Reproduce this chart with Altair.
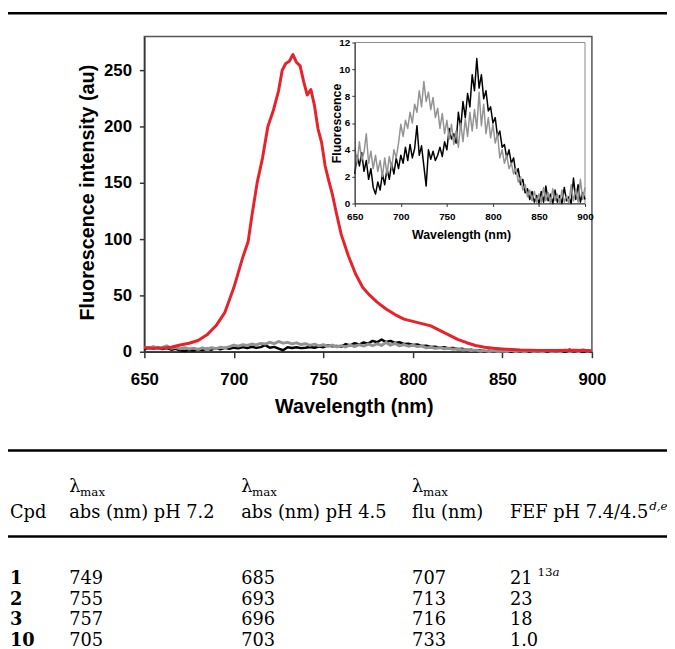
import altair as alt
import pandas as pd

# ---------------- data ----------------
# red spectrum (main plot)
red_wl = [650, 655, 660, 665, 670, 675, 680, 685, 690, 695, 700, 705, 708, 710, 713, 716,
          719, 722, 725, 727, 729, 731, 733, 735, 737, 739, 741, 743, 745, 747, 749, 751,
          753, 755, 757, 760, 764, 768, 772, 776, 780, 785, 790, 795, 800, 805, 810, 815,
          820, 825, 830, 835, 840, 845, 850, 860, 870, 880, 890, 900]
red_val = [3.5, 3, 3, 4, 6, 7.5, 10, 15, 23, 35, 57, 84, 98, 120, 150, 172,
           200, 214, 232, 250, 256, 258, 264, 257, 254, 240, 228, 233, 219, 198, 186, 165,
           152, 140, 125, 104, 85, 69, 57, 50, 44, 38, 33, 29, 27, 25, 23, 19,
           15, 11, 8, 5.5, 4, 3, 2.5, 1.5, 1.2, 1, 1.3, 0.8]

# black and gray spectra (sampled every 2.5 nm, 650-900 nm)
noisy_wl = [650 + 2.5 * i for i in range(101)]
black_val = [2.2, 3.6, 2.8, 3.8, 2.4, 3.2, 1.8, 2.6, 1.2, 0.7, 1.6, 1.0, 2.2, 1.4, 2.6, 1.8,
             3.0, 2.2, 3.4, 2.6, 3.6, 3.0, 4.2, 3.2, 4.4, 3.4, 4.1, 5.8, 3.6, 4.3, 2.8, 1.3,
             4.0, 3.3, 3.9, 3.2, 3.6, 4.2, 3.5, 4.6, 4.0, 5.6, 4.8, 5.2, 4.5, 6.8, 5.6, 7.6,
             6.4, 8.2, 7.2, 9.6, 8.4, 10.8, 8.6, 9.6, 7.8, 8.4, 6.9, 7.2, 6.0, 6.4, 5.0, 5.4,
             4.2, 4.4, 3.4, 4.0, 3.0, 3.4, 2.2, 2.6, 1.4, 1.8, 0.8, 1.1, 0.3, 0.9, 0.1, 0.6,
             0.0, 0.9, 0.1, 1.3, 0.2, 0.7, 0.0, 1.0, 0.1, 0.6, 0.0, 1.2, 0.2, 0.5, 0.0, 1.9,
             0.3, 1.4, 0.1, 0.8, 0.3]
gray_val = [4.2, 3.0, 4.6, 3.2, 3.8, 5.2, 3.0, 3.9, 2.6, 3.6, 2.4, 3.2, 2.0, 3.4, 2.2, 3.5,
            2.6, 4.0, 3.4, 4.5, 5.9, 5.0, 6.2, 5.6, 6.8, 6.0, 7.4, 6.8, 8.4, 7.2, 9.1, 7.6,
            8.3, 7.0, 7.9, 6.4, 7.1, 5.6, 6.7, 5.2, 6.2, 4.8, 5.9, 4.4, 5.4, 4.2, 6.0, 4.6,
            6.3, 5.0, 6.8, 5.4, 7.0, 5.6, 8.3, 5.8, 7.4, 5.2, 6.4, 4.9, 5.9, 4.5, 5.2, 3.4,
            4.0, 3.0, 3.6, 2.6, 3.0, 2.2, 2.6, 1.6, 2.0, 1.0, 1.4, 0.5, 1.0, 0.2, 0.9, 0.1,
            0.7, 0.1, 1.2, 0.2, 0.8, 0.0, 1.1, 0.2, 0.7, 0.0, 1.0, 0.1, 0.6, 0.0, 1.4, 0.2,
            1.0, 0.1, 1.8, 0.3, 1.2]

x_ticks = [650, 700, 750, 800, 850, 900]
main_y_ticks = [0, 50, 100, 150, 200, 250]
inset_y_ticks = [0, 2, 4, 6, 8, 10, 12]

# table
cpd = ["1", "2", "3", "10"]
abs72 = ["749", "755", "757", "705"]
abs45 = ["685", "693", "696", "703"]
flu = ["707", "713", "716", "733"]
fef = ["21", "23", "18", "1.0"]

# ---------------- layout ----------------
W, H = 453, 319
SANS = "Liberation Sans"
SERIF = "DejaVu Serif"
RED = "#e8222a"
GRAY = "#939393"

red_df = pd.DataFrame({"wl": red_wl, "v": red_val})
black_df = pd.DataFrame({"wl": noisy_wl, "v": black_val})
gray_df = pd.DataFrame({"wl": noisy_wl, "v": gray_val})

main_x_scale = alt.Scale(domain=[650, 900], nice=False, zero=False)
main_y_scale = alt.Scale(domain=[0, 280], nice=False)
main_x_axis = alt.Axis(orient="bottom", values=x_ticks, format="d", grid=False, labelFont=SANS,
                       labelFontWeight="bold", labelFontSize=17, labelColor="black", labelPadding=14,
                       tickSize=6, tickColor="#333", domainColor="#333", domainWidth=1.5, tickWidth=1.5,
                       labelFlush=False, labelOverlap=False,
                       title="Wavelength (nm)", titleFont=SANS, titleFontWeight="bold", titleFontSize=20,
                       titleColor="black", titleX=212, titleY=62, titleBaseline="alphabetic",
                       titleAlign="center")
main_y_axis = alt.Axis(orient="left", values=main_y_ticks, grid=False, labelFont=SANS,
                       labelFontWeight="bold", labelFontSize=17, labelColor="black", labelPadding=8,
                       tickSize=5, tickColor="#333", domainColor="#333", domainWidth=1.5, tickWidth=1.5,
                       labelFlush=False, labelOverlap=False,
                       title="Fluorescence intensity (au)", titleFont=SANS, titleFontWeight="bold",
                       titleFontSize=20, titleColor="black", titleX=-51.5, titleY=157.5,
                       titleAngle=270, titleBaseline="alphabetic", titleAlign="center")

inset_x_scale = alt.Scale(domain=[650, 900], range=[213, 446], nice=False, zero=False)
inset_y_scale = alt.Scale(domain=[0, 12], range=[169, 6], nice=False)
inset_x_axis = alt.Axis(orient="bottom", values=x_ticks, format="d", grid=False, offset=-150,
                        zindex=1, labelFont=SANS, labelFontWeight="bold", labelFontSize=10,
                        labelColor="black", labelPadding=5, tickSize=3, tickColor="#333",
                        domainColor="#333", labelFlush=False, labelOverlap=False,
                        title="Wavelength (nm)", titleFont=SANS, titleFontWeight="bold",
                        titleFontSize=12.5, titleColor="black", titleX=320.5, titleY=35,
                        titleBaseline="alphabetic", titleAlign="center")
inset_y_axis = alt.Axis(orient="left", values=inset_y_ticks, grid=False, offset=-213, zindex=1,
                        labelFont=SANS, labelFontWeight="bold", labelFontSize=10, labelColor="black",
                        labelPadding=2, tickSize=3, tickColor="#333", domainColor="#333",
                        labelFlush=False, labelOverlap=False,
                        title="Fluorescence", titleFont=SANS, titleFontWeight="bold",
                        titleFontSize=12.5, titleColor="black", titleX=-14.5, titleY=87.5,
                        titleAngle=270, titleBaseline="alphabetic", titleAlign="center")


def spectrum(df, color, width, xs, ys, xa, ya):
    return alt.Chart(df).mark_line(color=color, strokeWidth=width, strokeJoin="round").encode(
        x=alt.X("wl:Q", scale=xs, axis=xa),
        y=alt.Y("v:Q", scale=ys, axis=ya),
    )


main = alt.layer(
    spectrum(black_df, "black", 2.5, main_x_scale, main_y_scale, main_x_axis, main_y_axis),
    spectrum(gray_df, GRAY, 3, main_x_scale, main_y_scale, main_x_axis, main_y_axis),
    spectrum(red_df, RED, 3, main_x_scale, main_y_scale, main_x_axis, main_y_axis),
)

inset = alt.layer(
    spectrum(black_df, "black", 1.5, inset_x_scale, inset_y_scale, inset_x_axis, inset_y_axis),
    spectrum(gray_df, GRAY, 1.5, inset_x_scale, inset_y_scale, inset_x_axis, inset_y_axis),
)

one = alt.Data(values=[{}])

inset_frame = alt.Chart(one).mark_rect(fillOpacity=0, stroke="#8a8a8a", strokeWidth=1).encode(
    x=alt.value(213), x2=alt.value(446), y=alt.value(6), y2=alt.value(169)
)


def rule(y, w=2.5):
    return alt.Chart(one).mark_rule(color="black", strokeWidth=w).encode(
        x=alt.value(-138), x2=alt.value(529), y=alt.value(y)
    )


def label(text, x, y, size=18, weight="normal", style="normal"):
    return alt.Chart(one).mark_text(text=text, align="left", baseline="alphabetic", font=SERIF,
                                    fontSize=size, fontWeight=weight, fontStyle=style,
                                    color="black").encode(x=alt.value(x), y=alt.value(y))


COLS = [-136, -76, 98, 271, 370]
HDR1, HDR2 = 461, 487
ROW0 = 554
row_scale = alt.Scale(domain=[0, 3], range=[ROW0, 617], nice=False, zero=False)


def column(values, x, weight="normal"):
    df = pd.DataFrame({"t": values, "r": list(range(len(values)))})
    return alt.Chart(df).mark_text(align="left", baseline="alphabetic", font=SERIF, fontSize=18,
                                   fontWeight=weight, color="black").encode(
        x=alt.value(x), y=alt.Y("r:Q", scale=row_scale, axis=None), text="t:N"
    )


table = [
    rule(-23.5), rule(419), rule(506),
    label("Cpd", COLS[0], HDR2),
    label("λ", COLS[1], HDR1), label("max", COLS[1] + 11, HDR1 + 4, size=12),
    label("λ", COLS[2], HDR1), label("max", COLS[2] + 11, HDR1 + 4, size=12),
    label("λ", COLS[3], HDR1), label("max", COLS[3] + 11, HDR1 + 4, size=12),
    label("abs (nm) pH 7.2", COLS[1], HDR2),
    label("abs (nm) pH 4.5", COLS[2], HDR2),
    label("flu (nm)", COLS[3], HDR2),
    label("FEF pH 7.4/4.5", COLS[4], HDR2),
    label("d,e", COLS[4] + 141, HDR2 - 8, size=12, style="italic"),
    column(cpd, COLS[0], weight="bold"),
    column(abs72, COLS[1]),
    column(abs45, COLS[2]),
    column(flu, COLS[3]),
    column(fef, COLS[4]),
    label("13", COLS[4] + 28, ROW0 - 8, size=12),
    label("a", COLS[4] + 43, ROW0 - 8, size=12, style="italic"),
]

chart = alt.layer(main, inset_frame, inset, *table).resolve_scale(
    x="independent", y="independent"
).properties(
    width=W, height=H,
    autosize=alt.AutoSizeParams(type="none"),
    padding={"left": 138, "top": 25, "right": 76, "bottom": 297},
).configure_view(stroke="#555", strokeWidth=1.5)

chart.save("out.html", embed_options={"renderer": "svg", "actions": False})
